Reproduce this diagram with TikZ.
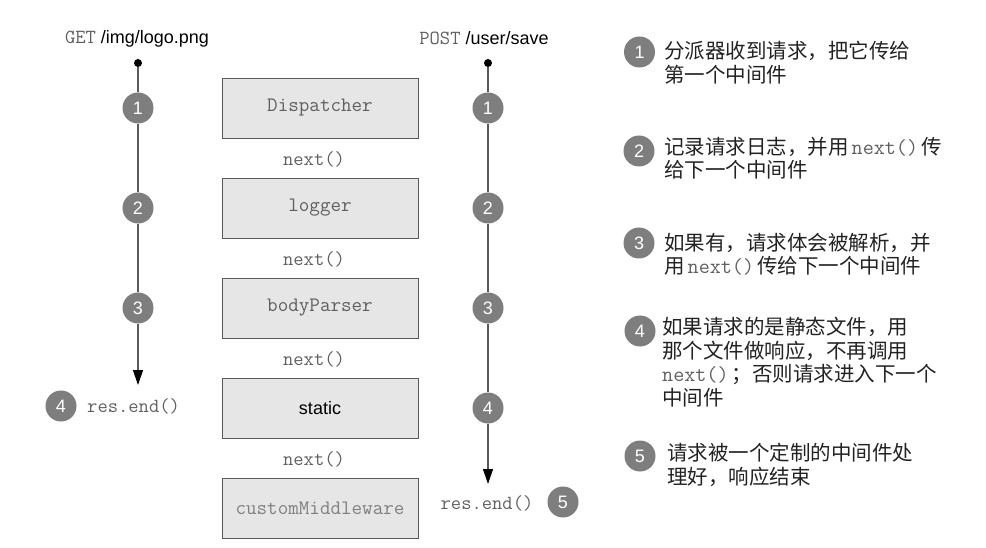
\documentclass[tikz,border=0pt]{standalone}
\usepackage{fontspec}
\setmainfont{Liberation Sans}
\newfontfamily\cjk{Noto Sans CJK SC}
\usetikzlibrary{arrows.meta}
\definecolor{numgray}{HTML}{7E7E7E}
\definecolor{linegray}{HTML}{5A5A5A}
\definecolor{boxfill}{HTML}{E6E6E6}
\definecolor{monogray}{HTML}{606060}
\definecolor{txtdark}{HTML}{222222}
\newcommand{\monof}{\ttfamily}
\newcommand{\mc}[1]{{\monof\color{monogray}#1}}
\newcommand{\inlnext}{\hspace{3pt}{\fontsize{21.5}{23.5}\selectfont\mc{next()}}\hspace{3pt}}
\tikzset{
  num/.style={circle,fill=numgray,draw=none,minimum size=31pt,inner sep=0pt,text=white,font=\fontsize{18}{20}\selectfont},
  mwbox/.style={draw=linegray,fill=boxfill,line width=0.9pt,minimum width=196pt,minimum height=60pt,inner sep=0pt,text=monogray,font=\monof\fontsize{20.5}{22}\selectfont},
  nextlbl/.style={text=monogray,font=\monof\fontsize{20}{22}\selectfont,inner sep=0pt},
  flow/.style={draw=linegray,line width=1.1pt},
  flowarrow/.style={flow,-{Triangle[length=15pt,width=10pt,color=black]}},
  startdot/.style={circle,fill=black,minimum size=8pt,inner sep=0pt},
  desc/.style={anchor=north west,inner sep=0pt,align=left,text=txtdark,font=\cjk\fontsize{20.5}{23.5}\selectfont},
  reqlbl/.style={inner sep=0pt,font=\fontsize{18}{20}\selectfont}
}
\begin{document}
\begin{tikzpicture}[x=1pt,y=-1pt]
\useasboundingbox (0,0) rectangle (986,548);

% top labels
\node[reqlbl] (getlbl) at (137,39) {{\monof\fontsize{20}{22}\selectfont\color{monogray}GET} /img/logo.png};
\node[reqlbl] (postlbl) at (484,38) {{\monof\fontsize{20}{22}\selectfont\color{monogray}POST} /user/save};

% middleware boxes
\node[mwbox] (disp) at (320,108) {Dispatcher};
\node[mwbox] (logger) at (320,208) {logger};
\node[mwbox] (body) at (320,308) {bodyParser};
\node[mwbox,text=black,font=\fontsize{18}{20}\selectfont] (static) at (320,408) {static};
\node[mwbox,text=monogray!80] (custom) at (320,508) {customMiddleware};

\node[nextlbl] (n1) at (314,159) {next()};
\node[nextlbl] (n2) at (314,259) {next()};
\node[nextlbl] (n3) at (314,359) {next()};
\node[nextlbl] (n4) at (314,459) {next()};

% left flow
\node[startdot] (ldot) at (138,63) {};
\node[num] (l1) at (138,108) {1};
\node[num] (l2) at (138,208) {2};
\node[num] (l3) at (138,308) {3};
\coordinate (lend) at (138,385);
\draw[flow] (ldot) -- (l1);
\draw[flow] (l1) -- (l2);
\draw[flow] (l2) -- (l3);
\draw[flowarrow] (l3) -- (lend);
\node[num] (l4) at (61,406) {4};
\node[nextlbl,anchor=west] (lres) at (87,406) {res.end()};

% right flow
\node[startdot] (rdot) at (488,63) {};
\node[num] (r1) at (488,108) {1};
\node[num] (r2) at (488,208) {2};
\node[num] (r3) at (488,308) {3};
\node[num] (r4) at (488,408) {4};
\coordinate (rend) at (488,484);
\draw[flow] (rdot) -- (r1);
\draw[flow] (r1) -- (r2);
\draw[flow] (r2) -- (r3);
\draw[flow] (r3) -- (r4);
\draw[flowarrow] (r4) -- (rend);
\node[nextlbl] (rres) at (487,503) {res.end()};
\node[num] (r5) at (563,502) {5};

% descriptions
\node[num] (d1) at (639.5,52) {1};
\node[desc] (t1) at (664,41) {分派器收到请求，把它传给\\第一个中间件};
\node[num] (d2) at (639,151) {2};
\node[desc] (t2) at (664,137) {记录请求日志，并用\inlnext 传\\给下一个中间件};
\node[num] (d3) at (639,243) {3};
\node[desc] (t3) at (664,233) {如果有，请求体会被解析，并\\用\inlnext 传给下一个中间件};
\node[num] (d4) at (640,331) {4};
\node[desc] (t4) at (662,317) {如果请求的是静态文件，用\\那个文件做响应，不再调用\\{\fontsize{21.5}{23.5}\selectfont\mc{next()}}\hspace{3pt}；否则请求进入下一个\\中间件};
\node[num] (d5) at (640,456) {5};
\node[desc] (t5) at (667,443) {请求被一个定制的中间件处\\理好，响应结束};
\end{tikzpicture}
\end{document}
